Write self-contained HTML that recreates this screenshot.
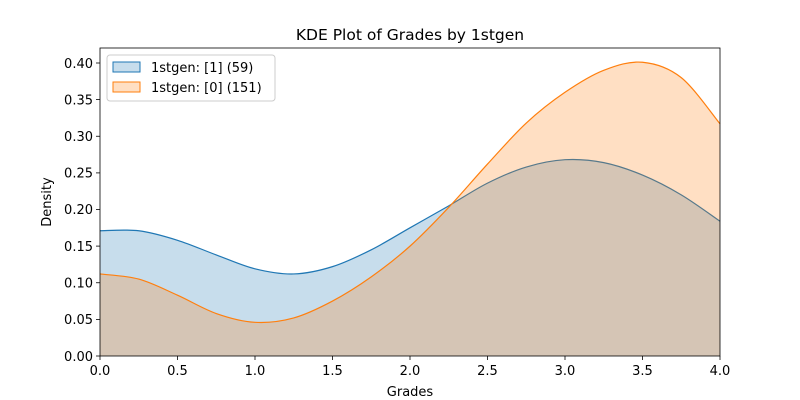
<!DOCTYPE html>
<html><head><meta charset="utf-8"><style>body{margin:0;background:#fff}svg{display:block}</style></head><body>
<svg width="800" height="400" xmlns="http://www.w3.org/2000/svg" font-family="DejaVu Sans, Liberation Sans, sans-serif">
<rect width="800" height="400" fill="#fff"/>
<path id="bf" fill="#1f77b4" fill-opacity="0.25" stroke="none"/>
<path id="bl" fill="none" stroke="#1f77b4" stroke-width="1.2"/>
<path id="of" fill="#ff7f0e" fill-opacity="0.25" stroke="none"/>
<path id="ol" fill="none" stroke="#ff7f0e" stroke-width="1.2"/>
<rect x="100" y="48" width="620" height="308" fill="none" stroke="#000" stroke-width="0.8"/>
<g font-size="13" fill="#000">
<g stroke="#000" stroke-width="0.8">
<line x1="100" y1="356" x2="100" y2="360"/><line x1="177.5" y1="356" x2="177.5" y2="360"/><line x1="255" y1="356" x2="255" y2="360"/><line x1="332.5" y1="356" x2="332.5" y2="360"/><line x1="410" y1="356" x2="410" y2="360"/><line x1="487.5" y1="356" x2="487.5" y2="360"/><line x1="565" y1="356" x2="565" y2="360"/><line x1="642.5" y1="356" x2="642.5" y2="360"/><line x1="720" y1="356" x2="720" y2="360"/>
<line x1="96" y1="356" x2="100" y2="356"/><line x1="96" y1="319.4" x2="100" y2="319.4"/><line x1="96" y1="282.75" x2="100" y2="282.75"/><line x1="96" y1="246.1" x2="100" y2="246.1"/><line x1="96" y1="209.5" x2="100" y2="209.5"/><line x1="96" y1="172.9" x2="100" y2="172.9"/><line x1="96" y1="136.25" x2="100" y2="136.25"/><line x1="96" y1="99.6" x2="100" y2="99.6"/><line x1="96" y1="63" x2="100" y2="63"/>
</g>
<g text-anchor="middle">
<text x="100" y="375">0.0</text><text x="177.5" y="375">0.5</text><text x="255" y="375">1.0</text><text x="332.5" y="375">1.5</text><text x="410" y="375">2.0</text><text x="487.5" y="375">2.5</text><text x="565" y="375">3.0</text><text x="642.5" y="375">3.5</text><text x="720" y="375">4.0</text>
<text x="410" y="396">Grades</text>
<text x="410" y="40" font-size="15.5">KDE Plot of Grades by 1stgen</text>
</g>
<g text-anchor="end">
<text x="93" y="361">0.00</text><text x="93" y="324">0.05</text><text x="93" y="287.5">0.10</text><text x="93" y="251">0.15</text><text x="93" y="214">0.20</text><text x="93" y="177.5">0.25</text><text x="93" y="141">0.30</text><text x="93" y="104.5">0.35</text><text x="93" y="68">0.40</text>
</g>
<text transform="translate(51,202) rotate(-90)" text-anchor="middle">Density</text>
</g>
<rect x="107" y="55" width="168" height="46" rx="3" fill="#fff" fill-opacity="0.8" stroke="#ccc"/>
<rect x="113" y="62" width="27" height="10" fill="#1f77b4" fill-opacity="0.25" stroke="#1f77b4"/>
<rect x="113" y="82" width="27" height="10" fill="#ff7f0e" fill-opacity="0.25" stroke="#ff7f0e"/>
<text x="151" y="72" font-size="13">1stgen: [1] (59)</text>
<text x="151" y="92" font-size="13">1stgen: [0] (151)</text>
</svg>
<script>
function pts(v){return v.map(function(d,i){return [100+155*0.25*i,356-732.5*d];});}
function cr(p){var s="M"+p[0][0]+","+p[0][1];for(var i=0;i<p.length-1;i++){var p0=p[i-1]||p[i],p1=p[i],p2=p[i+1],p3=p[i+2]||p[i+1];
var c1=[p1[0]+(p2[0]-p0[0])/6,p1[1]+(p2[1]-p0[1])/6],c2=[p2[0]-(p3[0]-p1[0])/6,p2[1]-(p3[1]-p1[1])/6];
s+=" C"+c1[0]+","+c1[1]+" "+c2[0]+","+c2[1]+" "+p2[0]+","+p2[1];}return s;}
var B=[0.171,0.171,0.158,0.138,0.119,0.112,0.122,0.145,0.175,0.205,0.236,0.258,0.268,0.264,0.247,0.220,0.184];
var O=[0.112,0.105,0.083,0.058,0.046,0.052,0.075,0.108,0.150,0.203,0.262,0.318,0.360,0.390,0.401,0.380,0.317];
var b=cr(pts(B)),o=cr(pts(O));
document.getElementById("bl").setAttribute("d",b);
document.getElementById("ol").setAttribute("d",o);
document.getElementById("bf").setAttribute("d",b+" L720,356 L100,356 Z");
document.getElementById("of").setAttribute("d",o+" L720,356 L100,356 Z");
</script>
</body></html>
